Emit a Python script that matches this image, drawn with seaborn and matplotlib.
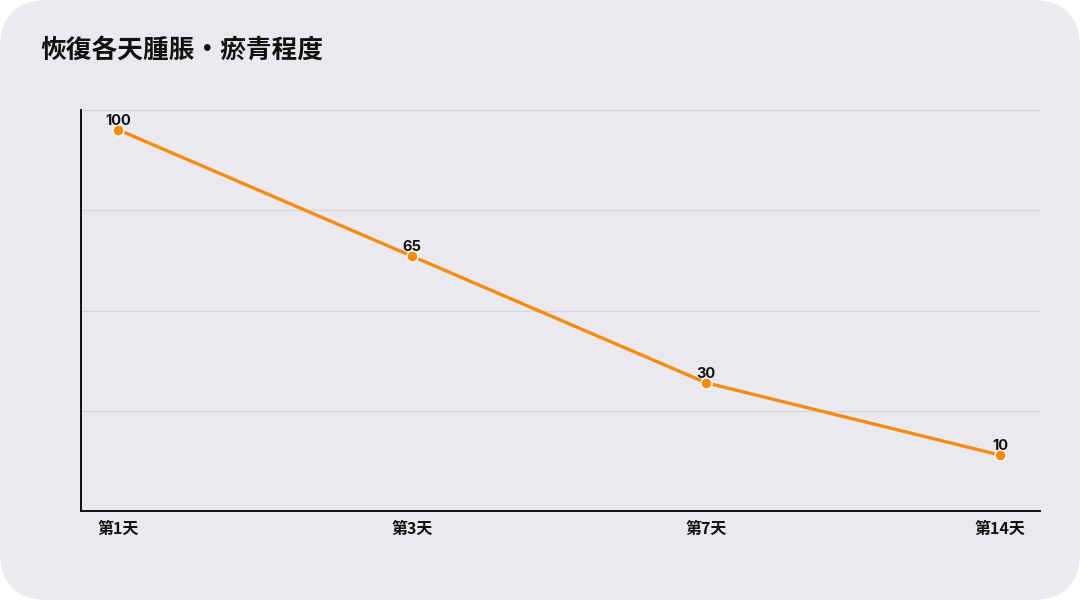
import matplotlib
matplotlib.use("Agg")
import matplotlib.pyplot as plt
import seaborn as sns
import pandas as pd
import numpy as np
from matplotlib.patches import FancyBboxPatch

days = ["第1天", "第3天", "第7天", "第14天"]
values = [100, 65, 30, 10]
title = "恢復各天腫脹・瘀青程度"

sns.set_theme(style="white")
plt.rcParams['font.family'] = ['Noto Sans CJK TC', 'DejaVu Sans']

bg = "#ebe9ee"
orange = "#f28c12"

fig = plt.figure(figsize=(10.8, 6.0), dpi=100)
fig.patch.set_facecolor("white")
card = FancyBboxPatch((0, 0), 1, 1, boxstyle="round,pad=0,rounding_size=0.045",
                      transform=fig.transFigure, facecolor=bg, edgecolor="none",
                      mutation_aspect=1080/600, zorder=-10)
fig.patches.append(card)

ax = fig.add_axes([0.075, 0.148, 0.888, 0.669])
ax.set_facecolor("none")

df = pd.DataFrame({"day": days, "value": values})
df["x"] = range(len(days))
sns.lineplot(data=df, x="x", y="value", ax=ax, color=orange, linewidth=2.4,
             marker="o", markersize=8, markeredgecolor="white", markeredgewidth=1.0,
             zorder=3)

for xi, v in zip(df["x"], df["value"]):
    ax.annotate(str(v), (xi, v), xytext=(0, 1.5), textcoords="offset points",
                ha="center", va="bottom", fontsize=10.5, fontweight="bold",
                family=["Inter", "DejaVu Sans"], color="#111111", zorder=4)

ax.set_xlim(-0.126, 3.135)
ax.set_ylim(-5.5, 105.5)
ax.set_yticks(np.linspace(-5.5, 105.5, 5))
ax.set_yticklabels([])
ax.yaxis.grid(True, color="#d6d5da", linewidth=0.9)
ax.set_xticks(df["x"])
ax.set_xticklabels(days, fontsize=11.5, fontweight="bold", color="#111111")
ax.tick_params(axis="x", length=0, pad=7)
ax.tick_params(axis="y", length=0)
ax.set_xlabel("")
ax.set_ylabel("")
for s in ["top", "right"]:
    ax.spines[s].set_visible(False)
for s in ["left", "bottom"]:
    ax.spines[s].set_color("#111111")
    ax.spines[s].set_linewidth(1.4)

fig.text(0.037, 0.916, title, fontsize=18.5, fontweight="bold", color="#111111",
         ha="left", va="center")

fig.savefig("out.png", dpi=100, facecolor=fig.get_facecolor())
